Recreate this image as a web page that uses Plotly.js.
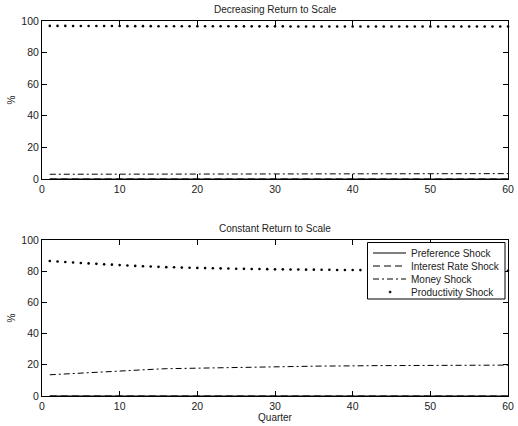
<!DOCTYPE html>
<html>
<head>
<meta charset="utf-8">
<script src="https://cdn.plot.ly/plotly-3.0.1.min.js"></script>
<style>html,body{margin:0;padding:0;background:#fff;}#chart{width:518px;height:426px;}</style>
</head>
<body>
<div id="chart"></div>
<script>
const quarters = [1,2,3,4,5,6,7,8,9,10,11,12,13,14,15,16,17,18,19,20,21,22,23,24,25,26,27,28,29,30,31,32,33,34,35,36,37,38,39,40,41,42,43,44,45,46,47,48,49,50,51,52,53,54,55,56,57,58,59,60];

// Decreasing return to scale
const drsPreference = [0,0,0,0,0,0,0,0,0,0,0,0,0,0,0,0,0,0,0,0,0,0,0,0,0,0,0,0,0,0,0,0,0,0,0,0,0,0,0,0,0,0,0,0,0,0,0,0,0,0,0,0,0,0,0,0,0,0,0,0];
const drsInterest = [0,0,0,0,0,0,0,0,0,0,0,0,0,0,0,0,0,0,0,0,0,0,0,0,0,0,0,0,0,0,0,0,0,0,0,0,0,0,0,0,0,0,0,0,0,0,0,0,0,0,0,0,0,0,0,0,0,0,0,0];
const drsMoney = [3.0,3.0,3.0,3.05,3.05,3.05,3.1,3.1,3.1,3.1,3.15,3.15,3.15,3.15,3.2,3.2,3.2,3.2,3.2,3.25,3.25,3.25,3.25,3.25,3.3,3.3,3.3,3.3,3.3,3.3,3.3,3.35,3.35,3.35,3.35,3.35,3.35,3.35,3.35,3.35,3.4,3.4,3.4,3.4,3.4,3.4,3.4,3.4,3.4,3.4,3.4,3.4,3.4,3.4,3.4,3.4,3.4,3.4,3.4,3.4];
const drsProductivity = [96.9,96.9,96.9,96.85,96.85,96.85,96.8,96.8,96.8,96.8,96.75,96.75,96.75,96.75,96.7,96.7,96.7,96.7,96.7,96.65,96.65,96.65,96.65,96.65,96.6,96.6,96.6,96.6,96.6,96.6,96.6,96.55,96.55,96.55,96.55,96.55,96.55,96.55,96.55,96.55,96.5,96.5,96.5,96.5,96.5,96.5,96.5,96.5,96.5,96.5,96.5,96.5,96.5,96.5,96.5,96.5,96.5,96.5,96.5,96.5];

// Constant return to scale
const crsPreference = [0,0,0,0,0,0,0,0,0,0,0,0,0,0,0,0,0,0,0,0,0,0,0,0,0,0,0,0,0,0,0,0,0,0,0,0,0,0,0,0,0,0,0,0,0,0,0,0,0,0,0,0,0,0,0,0,0,0,0,0];
const crsInterest = [0,0,0,0,0,0,0,0,0,0,0,0,0,0,0,0,0,0,0,0,0,0,0,0,0,0,0,0,0,0,0,0,0,0,0,0,0,0,0,0,0,0,0,0,0,0,0,0,0,0,0,0,0,0,0,0,0,0,0,0];
const crsMoney = [13.6,13.9,14.2,14.5,14.8,15.1,15.4,15.7,15.9,16.2,16.4,16.7,16.9,17.1,17.3,17.5,17.6,17.8,17.9,18.0,18.1,18.2,18.3,18.4,18.5,18.6,18.7,18.7,18.8,18.9,18.9,19.0,19.0,19.1,19.1,19.2,19.2,19.3,19.3,19.3,19.4,19.4,19.4,19.5,19.5,19.5,19.5,19.6,19.6,19.6,19.6,19.6,19.7,19.7,19.7,19.7,19.7,19.7,19.8,19.8];
const crsProductivity = [86.5,86.2,85.9,85.6,85.3,85.0,84.7,84.4,84.2,83.9,83.7,83.4,83.2,83.0,82.8,82.6,82.5,82.3,82.2,82.1,82.0,81.9,81.8,81.7,81.6,81.5,81.4,81.4,81.3,81.2,81.2,81.1,81.1,81.0,81.0,80.9,80.9,80.8,80.8,80.8,80.7,80.7,80.7,80.6,80.6,80.6,80.6,80.5,80.5,80.5,80.5,80.5,80.4,80.4,80.4,80.4,80.4,80.4,80.3,80.3];

const seriesNames = ['Preference Shock','Interest Rate Shock','Money Shock','Productivity Shock'];
const xTicks = [0,10,20,30,40,50,60];
const yTicks = [0,20,40,60,80,100];
const panelTitles = ['Decreasing Return to Scale','Constant Return to Scale'];

const FONT = 'Liberation Sans, Arial, sans-serif';
const DASHES = ['solid', '7px,4px', '6px,3px,2px,3px', null];

function makeTraces(vals, xa, ya) {
  return vals.map((v,i)=>{
    const t = {x: quarters, y: v, xaxis: xa, yaxis: ya, name: seriesNames[i],
               showlegend: false, type:'scatter', hoverinfo:'skip'};
    if (DASHES[i]) { t.mode='lines'; t.line={color:'black', width:1, dash:DASHES[i]}; }
    else { t.mode='markers'; t.marker={color:'black', size:2.6, symbol:'circle'}; t.cliponaxis=false; }
    return t;
  });
}

const data = [].concat(
  makeTraces([drsPreference, drsInterest, drsMoney, drsProductivity], 'x', 'y'),
  makeTraces([crsPreference, crsInterest, crsMoney, crsProductivity], 'x2', 'y2')
);

function axis(extra) {
  return Object.assign({
    showgrid:false, zeroline:false, showline:true, linecolor:'black', linewidth:1,
    mirror:'ticks', ticks:'inside', ticklen:5, tickcolor:'black', tickwidth:1,
    tickfont:{family:FONT, size:10.5, color:'#222'}
  }, extra);
}

// plot area in pixels: x 42..508, y 21..396
const PX = p => (p-42)/466;
const PY = p => (396-p)/375;

const topDomain = [PY(179), 1];
const botDomain = [0, PY(240)];

// legend drawn as a box with samples (layout decoration)
const legendShapes = [
  {type:'rect', xref:'paper', yref:'paper', x0:PX(367.5), x1:PX(505), y0:PY(299), y1:PY(242.5),
   line:{color:'black', width:1}, fillcolor:'white', layer:'above'}
];
const legendAnn = [];
const rowY = [253, 266, 279, 292];
seriesNames.forEach((nm,i)=>{
  if (DASHES[i]) {
    legendShapes.push({type:'line', xref:'paper', yref:'paper', x0:PX(373), x1:PX(406), y0:PY(rowY[i]), y1:PY(rowY[i]),
      line:{color:'black', width:1, dash:DASHES[i]}, layer:'above'});
  } else {
    legendShapes.push({type:'circle', xref:'paper', yref:'paper', x0:PX(389), x1:PX(391.2), y0:PY(rowY[i]+1.1), y1:PY(rowY[i]-1.1),
      line:{color:'black', width:0.5}, fillcolor:'black', layer:'above'});
  }
  legendAnn.push({text:nm, xref:'paper', yref:'paper', x:PX(409), y:PY(rowY[i]), xanchor:'left', yanchor:'middle',
    showarrow:false, font:{family:FONT, size:10, color:'#222'}});
});

const layout = {
  width:518, height:426,
  margin:{l:42, r:10, t:21, b:30},
  paper_bgcolor:'white', plot_bgcolor:'white',
  font:{family:FONT, size:10, color:'black'},
  showlegend:false,
  xaxis: axis({range:[0,60], tickvals:xTicks, domain:[0,1], anchor:'y'}),
  yaxis: axis({range:[0,100], tickvals:yTicks, domain:topDomain, anchor:'x',
               title:{text:'%', font:{family:FONT, size:10, color:'#222'}, standoff:3}}),
  xaxis2: axis({range:[0,60], tickvals:xTicks, domain:[0,1], anchor:'y2',
               title:{text:'Quarter', font:{family:FONT, size:10, color:'#222'}, standoff:2}}),
  yaxis2: axis({range:[0,100], tickvals:yTicks, domain:botDomain, anchor:'x2',
               title:{text:'%', font:{family:FONT, size:10, color:'#222'}, standoff:3}}),
  shapes: legendShapes,
  annotations:[
    {text:panelTitles[0], xref:'paper', yref:'paper', x:0.5, y:topDomain[1], yshift:4,
     xanchor:'center', yanchor:'bottom', showarrow:false, font:{family:FONT, size:10, color:'#222'}},
    {text:panelTitles[1], xref:'paper', yref:'paper', x:0.5, y:botDomain[1], yshift:4,
     xanchor:'center', yanchor:'bottom', showarrow:false, font:{family:FONT, size:10, color:'#222'}}
  ].concat(legendAnn)
};

Plotly.newPlot('chart', data, layout, {staticPlot:true, displayModeBar:false});
</script>
</body>
</html>
